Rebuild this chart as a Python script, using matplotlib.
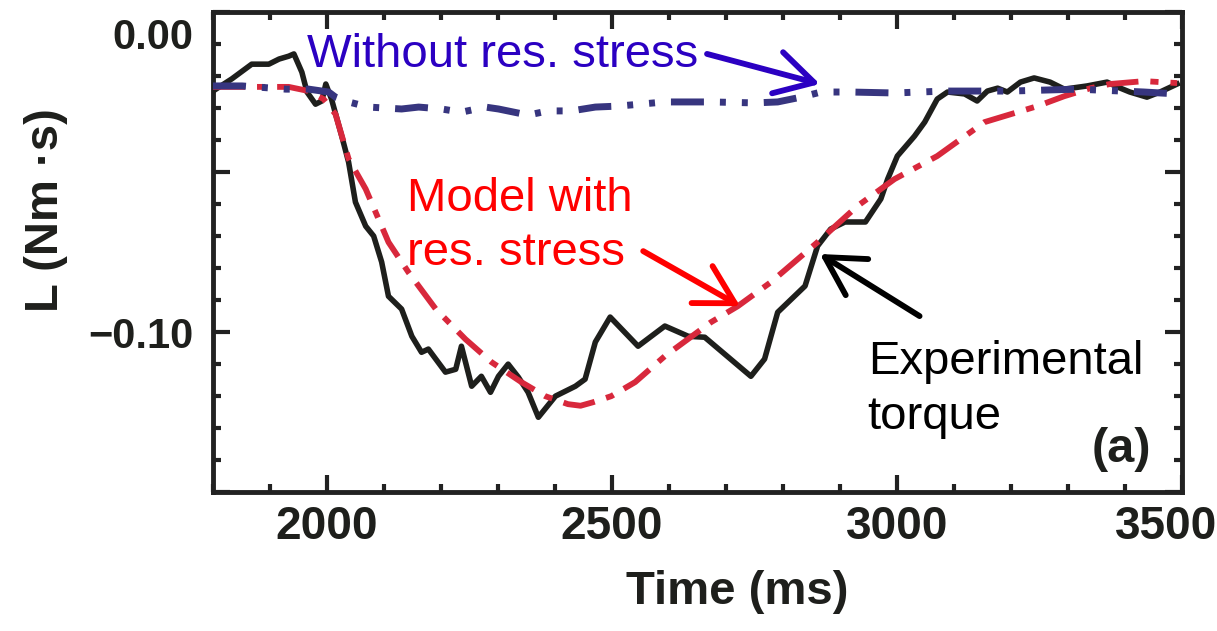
import numpy as np
import matplotlib
matplotlib.use('Agg')
import matplotlib.pyplot as plt
from matplotlib.transforms import ScaledTranslation

# time axis (ms) and angular momentum L (Nm s)
t_exp = [1800, 1833, 1868, 1898, 1916, 1933, 1942, 1956, 1965, 1980, 1991, 1998, 2008, 2026,
         2038, 2050, 2068, 2082, 2096, 2108, 2131, 2149, 2166, 2178, 2208, 2226, 2236, 2254,
         2271, 2287, 2301, 2318, 2336, 2353, 2371, 2401, 2436, 2453, 2471, 2497, 2546, 2593,
         2634, 2663, 2744, 2768, 2791, 2839, 2861, 2884, 2909, 2945, 2972, 2984, 3001, 3031,
         3049, 3071, 3089, 3119, 3141, 3159, 3177, 3194, 3217, 3241, 3269, 3294, 3334, 3369,
         3387, 3409, 3439, 3462, 3492]
L_exp = [-0.0247, -0.0209, -0.0163, -0.0163, -0.0147, -0.0138, -0.0131, -0.0188, -0.0250,
         -0.0288, -0.0278, -0.0225, -0.0272, -0.0388, -0.0469, -0.0594, -0.0669, -0.0700,
         -0.0781, -0.0888, -0.0928, -0.1013, -0.1063, -0.1053, -0.1125, -0.1116, -0.1044,
         -0.1169, -0.1138, -0.1188, -0.1138, -0.1100, -0.1141, -0.1188, -0.1266, -0.1200,
         -0.1169, -0.1147, -0.1031, -0.0953, -0.1044, -0.0981, -0.1013, -0.1016, -0.1138,
         -0.1084, -0.0938, -0.0856, -0.0731, -0.0678, -0.0656, -0.0656, -0.0584, -0.0522,
         -0.0450, -0.0388, -0.0344, -0.0272, -0.0250, -0.0256, -0.0278, -0.0247, -0.0238,
         -0.0250, -0.0219, -0.0206, -0.0219, -0.0241, -0.0231, -0.0219, -0.0234, -0.0250,
         -0.0266, -0.0250, -0.0225]

t_model = [1800, 1933, 1968, 1994, 2015, 2038, 2068, 2108, 2143, 2191, 2243, 2289, 2341,
           2383, 2423, 2445, 2467, 2499, 2541, 2593, 2674, 2721, 2779, 2861, 2931, 2996,
           3071, 3154, 3247, 3294, 3340, 3374, 3434, 3492]
L_model = [-0.0234, -0.0234, -0.0247, -0.0272, -0.0319, -0.0459, -0.0553, -0.0719, -0.0813,
           -0.0928, -0.1022, -0.1094, -0.1156, -0.1200, -0.1225, -0.1230, -0.1219, -0.1200,
           -0.1156, -0.1075, -0.0969, -0.0919, -0.0844, -0.0719, -0.0606, -0.0522, -0.0450,
           -0.0344, -0.0294, -0.0263, -0.0238, -0.0225, -0.0216, -0.0222]

t_nores = [1800, 1851, 1928, 1968, 2003, 2015, 2038, 2073, 2131, 2161, 2201, 2236, 2278,
           2301, 2353, 2388, 2429, 2471, 2511, 2593, 2674, 2751, 2791, 2832, 2867, 2919,
           2996, 3084, 3199, 3317, 3434, 3492]
L_nores = [-0.0231, -0.0231, -0.0241, -0.0241, -0.0250, -0.0266, -0.0281, -0.0297, -0.0303,
           -0.0297, -0.0303, -0.0313, -0.0297, -0.0303, -0.0322, -0.0309, -0.0309, -0.0297,
           -0.0294, -0.0281, -0.0281, -0.0284, -0.0281, -0.0266, -0.0250, -0.0250, -0.0253,
           -0.0247, -0.0247, -0.0241, -0.0250, -0.0256]

x_ticks = [2000, 2500, 3000, 3500]
x_ticklabels = ['2000', '2500', '3000', '3500']
y_ticks = [0.0, -0.05, -0.10, -0.15]
y_ticklabels = ['0.00', '', '\u22120.10', '']

plt.rcParams['font.family'] = ['Liberation Sans', 'DejaVu Sans']

fig = plt.figure(figsize=(12.17, 6.31), dpi=100)
ax = fig.add_axes([0.175, 0.22, 0.796, 0.761])

ax.plot(t_exp, L_exp, color='#1e1f1c', lw=4.0, zorder=3)
ax.plot(t_model, L_model, color='#d8283c', lw=4.2, linestyle=(0, (5.5, 2.05, 1.4, 2.05)), zorder=4)
ax.plot(t_nores, L_nores, color='#37357f', lw=5.0,
        linestyle=(0, (4.75, 2.3, 0.86, 2.3, 0.86, 2.3)), zorder=5)

ax.set_xlim(1800, 3500)
ax.set_ylim(-0.15, 0.0)

ax.set_xticks(x_ticks, x_ticklabels, fontsize=33, fontweight='bold', color='#1e1f1c')
ax.set_xticks(np.arange(1800, 3501, 100), minor=True)
ax.set_yticks(y_ticks, y_ticklabels, fontsize=30, fontweight='bold', color='#1e1f1c')
ax.set_yticks(np.arange(-0.15, 0.001, 0.01), minor=True)

ax.tick_params(which='both', direction='in', top=True, right=True, width=3, color='#222222')
ax.tick_params(which='major', length=12)
ax.tick_params(which='minor', length=6)
ax.tick_params(axis='x', pad=9)
ax.tick_params(axis='y', pad=14)
for s in ax.spines.values():
    s.set_linewidth(3.5)
    s.set_color('#222222')

# labels at the ends nudged inwards, as in the original
lab = ax.get_xticklabels()[-1]
lab.set_transform(lab.get_transform() + ScaledTranslation(-0.16, 0, fig.dpi_scale_trans))
lab = ax.get_yticklabels()[0]
lab.set_transform(lab.get_transform() + ScaledTranslation(0, -0.22, fig.dpi_scale_trans))

ax.set_xlabel('Time (ms)', fontsize=34, fontweight='bold', color='#1e1f1c')
ax.xaxis.set_label_coords(0.541, -0.163)
ax.set_ylabel('L (Nm \u00b7s)', fontsize=34, fontweight='bold', color='#1e1f1c')
ax.yaxis.set_label_coords(-0.150, 0.5875)

# annotations
arrow_style = '->,head_length=0.8,head_width=0.45'
ax.text(1965, -0.0172, 'Without res. stress', color='#2b00c2', fontsize=34, va='baseline')
ax.annotate('', xy=(2865, -0.0225), xytext=(2667, -0.0131),
            arrowprops=dict(arrowstyle=arrow_style, color='#2b00c2', lw=4.2,
                            shrinkA=0, shrinkB=0), fontsize=34, zorder=6)

ax.text(2140, -0.0622, 'Model with', color='#ff0000', fontsize=34, va='baseline')
ax.text(2140, -0.0790, 'res. stress', color='#ff0000', fontsize=34, va='baseline')
ax.annotate('', xy=(2725, -0.0919), xytext=(2555, -0.0747),
            arrowprops=dict(arrowstyle=arrow_style, color='#ff0000', lw=4.2,
                            shrinkA=0, shrinkB=0), fontsize=34, zorder=6)

ax.text(2949, -0.1131, 'Experimental', color='black', fontsize=34, va='baseline')
ax.text(2949, -0.1303, 'torque', color='black', fontsize=34, va='baseline')
ax.annotate('', xy=(2865, -0.0756), xytext=(3040, -0.0950),
            arrowprops=dict(arrowstyle=arrow_style, color='black', lw=4.2,
                            shrinkA=0, shrinkB=0), fontsize=34, zorder=6)

ax.text(3446, -0.1405, '(a)', fontsize=35, fontweight='bold',
        color='#1e1f1c', ha='right', va='baseline')

plt.savefig('out.png', dpi=100)
